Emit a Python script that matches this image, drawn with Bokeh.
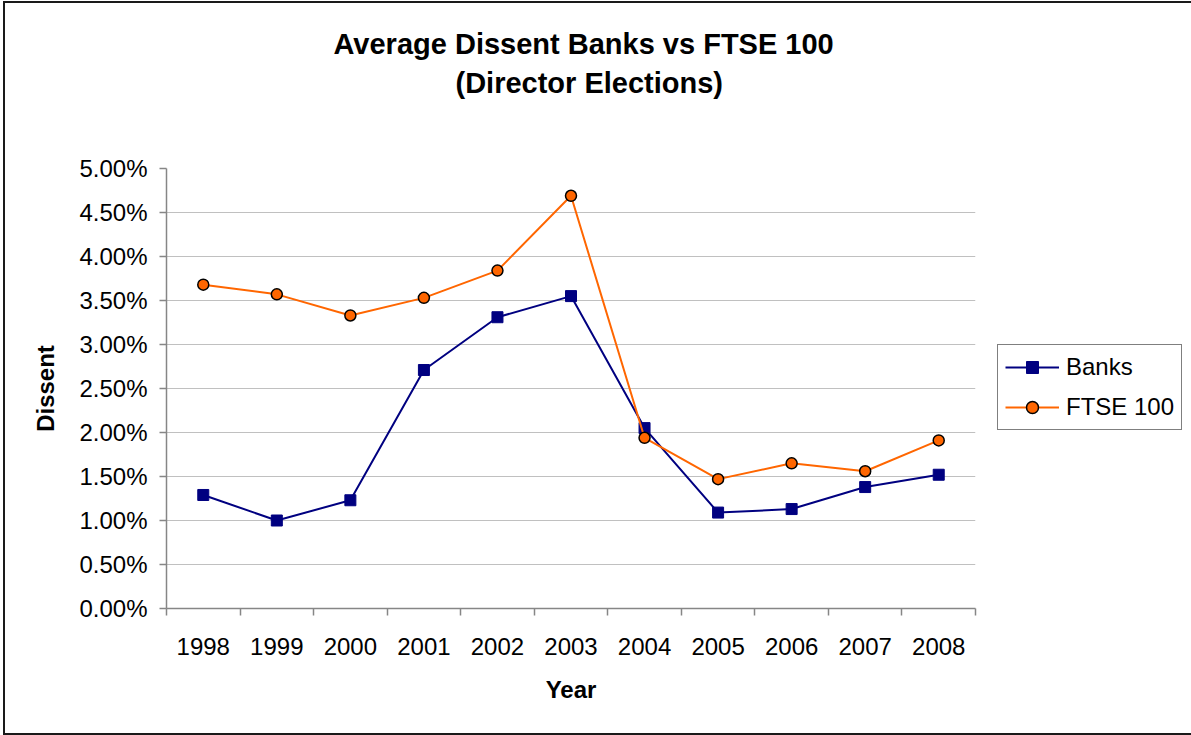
from bokeh.plotting import figure
from bokeh.models import (FixedTicker, PrintfTickFormatter, Legend, LegendItem,
                          Title, Range1d, InlineStyleSheet)
from bokeh.embed import file_html
from bokeh.resources import INLINE

# ---- data ----
years = [1998, 1999, 2000, 2001, 2002, 2003, 2004, 2005, 2006, 2007, 2008]
banks = [1.29, 1.00, 1.23, 2.71, 3.31, 3.55, 2.05, 1.09, 1.13, 1.38, 1.52]
ftse = [3.68, 3.57, 3.33, 3.53, 3.84, 4.69, 1.94, 1.47, 1.65, 1.56, 1.91]
y_ticks = [0.0, 0.5, 1.0, 1.5, 2.0, 2.5, 3.0, 3.5, 4.0, 4.5, 5.0]
series_names = ["Banks", "FTSE 100"]
title_lines = ["Average Dissent Banks vs FTSE 100", "(Director Elections)"]
x_label = "Year"
y_label = "Dissent"

FONT = "Liberation Sans"
AXIS_COLOR = "#868686"
BANKS_COLOR = "#000080"
FTSE_COLOR = "#FF6600"

frame_css = InlineStyleSheet(css="""
:host { position: relative; }
:host::after {
  content: ""; position: absolute; left: 3px; top: 1px; right: -6px; bottom: 0px;
  border: 2px solid #1a1a1a; pointer-events: none; z-index: 100;
}
""")

p = figure(frame_width=809, frame_height=440,
           min_border_left=166, min_border_right=216,
           min_border_top=168, min_border_bottom=127,
           x_range=Range1d(years[0] - 0.5, years[-1] + 0.5),
           y_range=Range1d(y_ticks[0], y_ticks[-1]),
           output_backend="svg", toolbar_location=None,
           stylesheets=[frame_css])
p.outline_line_color = None
p.background_fill_color = "white"
p.border_fill_color = "white"

# ---- titles (stacked outward from the frame: spacer, line 2, line 1) ----
p.add_layout(Title(text=" ", text_font_size="10px", standoff=57), "above")
p.add_layout(Title(text=title_lines[1], align="left", offset=289, standoff=0,
                   text_font=FONT, text_font_size="29px", text_font_style="bold",
                   text_color="black"), "above")
p.add_layout(Title(text=title_lines[0], align="left", offset=167, standoff=10,
                   text_font=FONT, text_font_size="29px", text_font_style="bold",
                   text_color="black"), "above")

# x axis: labels at years, tick marks between categories
minor = [y - 0.5 for y in years] + [years[-1] + 0.5]
p.xaxis.ticker = FixedTicker(ticks=years, minor_ticks=minor)
p.xaxis.major_tick_out = 0
p.xaxis.major_tick_in = 0
p.xaxis.minor_tick_out = 7
p.xaxis.minor_tick_in = 0
p.xaxis.minor_tick_line_color = AXIS_COLOR
p.xaxis.minor_tick_line_width = 1.5
p.xaxis.major_label_standoff = 22
p.xaxis.axis_label = x_label
p.xaxis.axis_label_standoff = 18

# y axis
p.yaxis.ticker = FixedTicker(ticks=y_ticks, minor_ticks=[])
p.yaxis.formatter = PrintfTickFormatter(format="%.2f%%")
p.yaxis.major_tick_out = 7
p.yaxis.major_tick_in = 0
p.yaxis.minor_tick_out = 0
p.yaxis.minor_tick_in = 0
p.yaxis.major_label_standoff = 12
p.yaxis.axis_label = y_label
p.yaxis.axis_label_standoff = 17

for ax in (p.xaxis, p.yaxis):
    ax.axis_line_color = AXIS_COLOR
    ax.axis_line_width = 1.5
    ax.major_tick_line_color = AXIS_COLOR
    ax.major_tick_line_width = 1.5
    ax.major_label_text_font = FONT
    ax.major_label_text_font_size = "24px"
    ax.major_label_text_color = "black"
    ax.axis_label_text_font = FONT
    ax.axis_label_text_font_size = "24px"
    ax.axis_label_text_font_style = "bold"
    ax.axis_label_text_color = "black"

p.xgrid.grid_line_color = None
p.ygrid.ticker = FixedTicker(ticks=y_ticks[1:-1])
p.ygrid.grid_line_color = "#c0c0c0"
p.ygrid.grid_line_width = 1.2

# series
l1 = p.line(years, banks, line_color=BANKS_COLOR, line_width=2)
s1 = p.scatter(years, banks, marker="square", size=11,
               fill_color=BANKS_COLOR, line_color=BANKS_COLOR)
l2 = p.line(years, ftse, line_color=FTSE_COLOR, line_width=2)
s2 = p.scatter(years, ftse, marker="circle", size=11,
               fill_color=FTSE_COLOR, line_color="black", line_width=1.5)

legend = Legend(items=[LegendItem(label=series_names[0], renderers=[l1, s1]),
                       LegendItem(label=series_names[1], renderers=[l2, s2])],
                location=(22, 178), margin=0, padding=7, spacing=10,
                glyph_width=54, glyph_height=30, label_standoff=7,
                label_text_font=FONT, label_text_font_size="24px",
                label_text_color="black",
                border_line_color="black", border_line_width=1,
                background_fill_color="white", background_fill_alpha=1)
p.add_layout(legend, "right")

open("out.html", "w").write(file_html(p, INLINE))
